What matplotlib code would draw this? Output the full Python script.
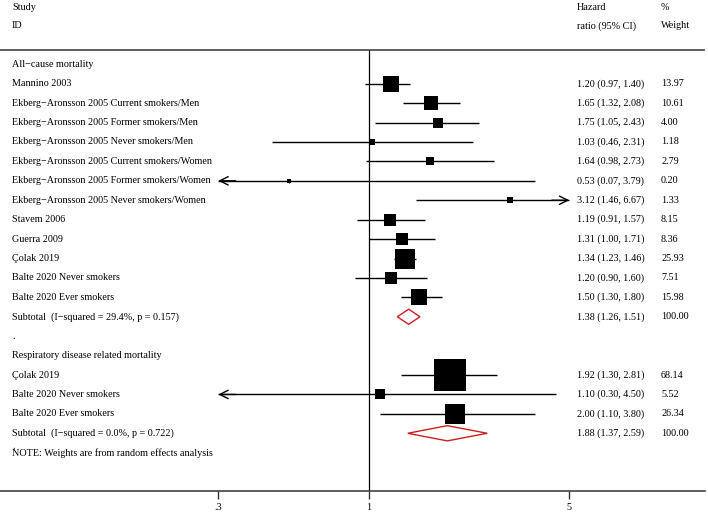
import matplotlib
matplotlib.use("Agg")
import matplotlib.pyplot as plt
import numpy as np
from matplotlib.patches import Polygon
from matplotlib.ticker import NullLocator, FixedLocator, FixedFormatter

plt.rcParams['font.family'] = ['Liberation Serif', 'DejaVu Serif']

# ---------------- data ----------------
all_studies = ["Mannino 2003",
               "Ekberg\u2212Aronsson 2005 Current smokers/Men",
               "Ekberg\u2212Aronsson 2005 Former smokers/Men",
               "Ekberg\u2212Aronsson 2005 Never smokers/Men",
               "Ekberg\u2212Aronsson 2005 Current smokers/Women",
               "Ekberg\u2212Aronsson 2005 Former smokers/Women",
               "Ekberg\u2212Aronsson 2005 Never smokers/Women",
               "Stavem 2006",
               "Guerra 2009",
               "\u00c7olak 2019",
               "Balte 2020 Never smokers",
               "Balte 2020 Ever smokers"]
all_hr = [1.20, 1.65, 1.75, 1.03, 1.64, 0.53, 3.12, 1.19, 1.31, 1.34, 1.20, 1.50]
all_lo = [0.97, 1.32, 1.05, 0.46, 0.98, 0.07, 1.46, 0.91, 1.00, 1.23, 0.90, 1.30]
all_hi = [1.40, 2.08, 2.43, 2.31, 2.73, 3.79, 6.67, 1.57, 1.71, 1.46, 1.60, 1.80]
all_w = [13.97, 10.61, 4.00, 1.18, 2.79, 0.20, 1.33, 8.15, 8.36, 25.93, 7.51, 15.98]
all_sub = (1.38, 1.26, 1.51)
all_sub_label = "Subtotal  (I\u2212squared = 29.4%, p = 0.157)"

resp_studies = ["\u00c7olak 2019", "Balte 2020 Never smokers", "Balte 2020 Ever smokers"]
resp_hr = [1.92, 1.10, 2.00]
resp_lo = [1.30, 0.30, 1.10]
resp_hi = [2.81, 4.50, 3.80]
resp_w = [68.14, 5.52, 26.34]
resp_sub = (1.88, 1.37, 2.59)
resp_sub_label = "Subtotal  (I\u2212squared = 0.0%, p = 0.722)"

group_titles = ["All\u2212cause mortality", "Respiratory disease related mortality"]
tick_values = [0.3, 1, 5]
tick_labels = [".3", "1", "5"]
note_text = "NOTE: Weights are from random effects analysis"

# ---------------- layout ----------------
W, H, DPI = 708, 513, 100
fig = plt.figure(figsize=(W / DPI, H / DPI), dpi=DPI)

px_null, px_dec = 368.5, 287.3       # pixel position of 1 and pixels per decade
row0_px, row_px = 64.3, 19.42          # pixel y of first row and row spacing
axis_px = 490.7
ax_right_px = 705

ax = fig.add_axes([0, (H - axis_px) / H, ax_right_px / W, axis_px / H])
ax.set_xscale('log')
ax.set_xlim(10 ** ((0 - px_null) / px_dec), 10 ** ((ax_right_px - px_null) / px_dec))
ytop = (0 - row0_px) / row_px
ybot = (axis_px - row0_px) / row_px
ax.set_ylim(ybot, ytop)

FS = 7.3
for s in ['top', 'left', 'right']:
    ax.spines[s].set_visible(False)
ax.spines['bottom'].set_color('#333333')
ax.spines['bottom'].set_linewidth(1.1)
ax.set_yticks([])
ax.xaxis.set_major_locator(FixedLocator(tick_values))
ax.xaxis.set_major_formatter(FixedFormatter(tick_labels))
ax.xaxis.set_minor_locator(NullLocator())
ax.tick_params(axis='x', direction='out', length=5.5, width=1.0, color='#333333',
               labelsize=FS, pad=3.5)

xmin, xmax = 0.3, 5.0
lt = ax.get_yaxis_transform()
x_lab, x_hr, x_w = 12 / ax_right_px, 577 / ax_right_px, 661 / ax_right_px

# header
hdr_study = -(row0_px - 7.5) / row_px
hdr_id = -(row0_px - 26) / row_px
ax.text(x_lab, hdr_study, "Study", transform=lt, fontsize=FS, va='center')
ax.text(x_lab, hdr_id, "ID", transform=lt, fontsize=FS, va='center')
ax.text(x_hr, hdr_study, "Hazard", transform=lt, fontsize=FS, va='center')
ax.text(x_hr, hdr_id, "ratio (95% CI)", transform=lt, fontsize=FS, va='center')
ax.text(x_w, hdr_study, "%", transform=lt, fontsize=FS, va='center')
ax.text(x_w, hdr_id, "Weight", transform=lt, fontsize=FS, va='center')

hline_y = -(row0_px - 50) / row_px
ax.axhline(hline_y, color='#333333', lw=1.1)
ax.vlines(1, hline_y, ybot, color='black', lw=0.9)


def study_row(y, name, hr, lo, hi, w):
    ax.text(x_lab, y, name, transform=lt, fontsize=FS, va='center')
    ax.text(x_hr, y, f"{hr:.2f} ({lo:.2f}, {hi:.2f})", transform=lt, fontsize=FS, va='center')
    ax.text(x_w, y, f"{w:.2f}", transform=lt, fontsize=FS, va='center')
    x0, x1 = max(lo, xmin), min(hi, xmax)
    left_arrow, right_arrow = lo <= xmin, hi >= xmax
    ax.plot([x0, x1], [y, y], color='black', lw=1.0, solid_capstyle='butt', zorder=2)
    ap = dict(arrowstyle='->,head_length=0.6,head_width=0.3', color='black', lw=1.0,
              shrinkA=0, shrinkB=0, mutation_scale=10)
    if left_arrow:
        ax.annotate('', xy=(x0, y), xytext=(x0 * 1.15, y), arrowprops=ap, zorder=3)
    if right_arrow:
        ax.annotate('', xy=(x1, y), xytext=(x1 / 1.15, y), arrowprops=ap, zorder=3)
    side_px = 3.63 * np.sqrt(w) + 2.0
    ax.plot([hr], [y], marker='s', ms=side_px * 72 / DPI, color='black', mew=0, zorder=4)
    ax.plot([hr], [y], marker='D', ms=3.2 * 72 / DPI, color='black', mew=0, zorder=5)


def subtotal_row(y, label, sub):
    hr, lo, hi = sub
    ax.text(x_lab, y, label, transform=lt, fontsize=FS, va='center')
    ax.text(x_hr, y, f"{hr:.2f} ({lo:.2f}, {hi:.2f})", transform=lt, fontsize=FS, va='center')
    ax.text(x_w, y, "100.00", transform=lt, fontsize=FS, va='center')
    h = 7.6 / row_px
    ax.add_patch(Polygon([(lo, y), (hr, y - h), (hi, y), (hr, y + h)], closed=True,
                         facecolor='white', edgecolor='#cc1f1f', lw=1.0, zorder=4))


row = 0
ax.text(x_lab, row, group_titles[0], transform=lt, fontsize=FS, va='center')
row += 1
for i in range(len(all_studies)):
    study_row(row, all_studies[i], all_hr[i], all_lo[i], all_hi[i], all_w[i])
    row += 1
subtotal_row(row, all_sub_label, all_sub)
row += 1
ax.text(x_lab, row, ".", transform=lt, fontsize=FS, va='center')
row += 1
ax.text(x_lab, row, group_titles[1], transform=lt, fontsize=FS, va='center')
row += 1
for i in range(len(resp_studies)):
    study_row(row, resp_studies[i], resp_hr[i], resp_lo[i], resp_hi[i], resp_w[i])
    row += 1
subtotal_row(row, resp_sub_label, resp_sub)
row += 1
ax.text(x_lab, row - 0.3, ".", transform=lt, fontsize=FS, va='center')
ax.text(x_lab, row, note_text, transform=lt, fontsize=FS, va='center')

fig.savefig("out.png", dpi=DPI)
